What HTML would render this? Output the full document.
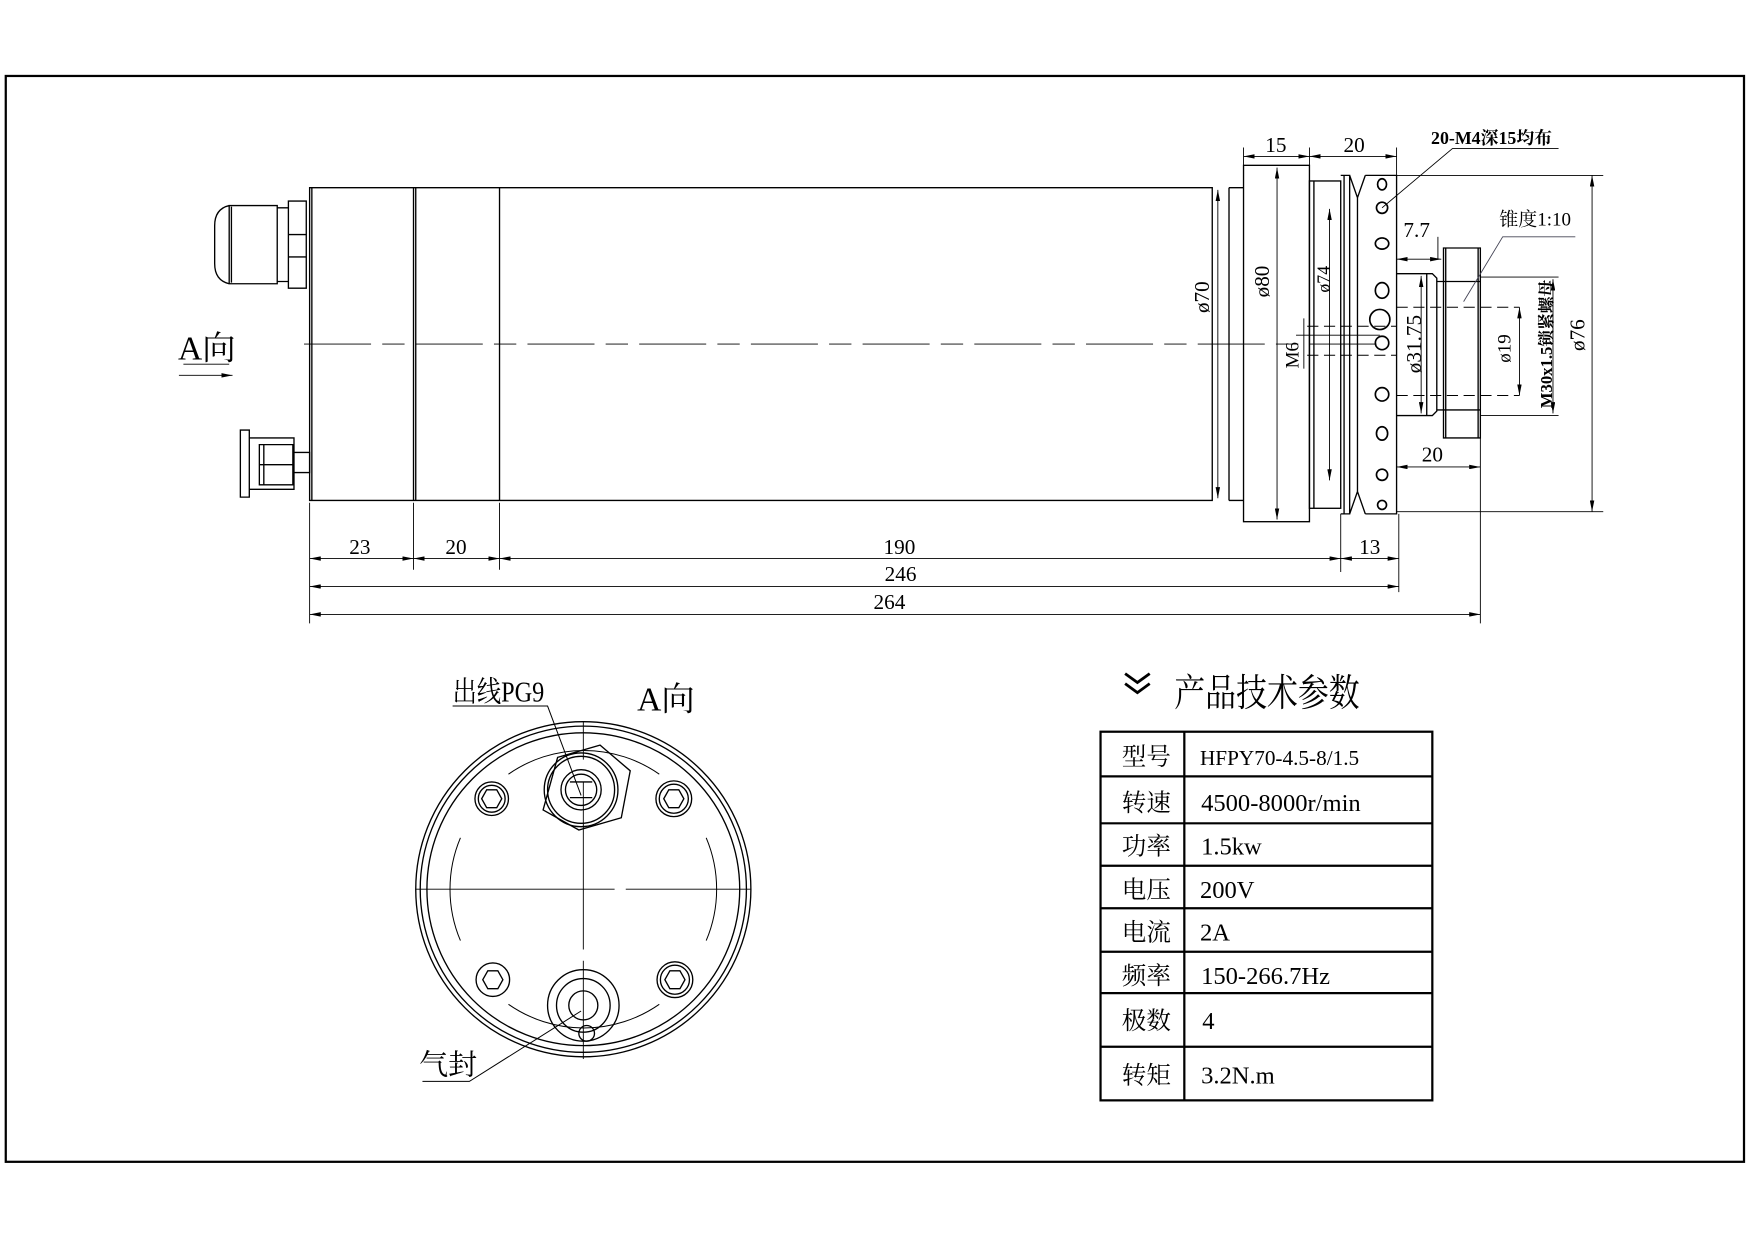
<!DOCTYPE html>
<html><head><meta charset="utf-8"><style>
html,body{margin:0;padding:0;background:#fff}
svg{display:block}
text{font-family:"Liberation Serif","Noto Serif CJK SC","Noto Sans CJK SC",serif;fill:#000}
</style></head><body>
<svg width="1752" height="1240" viewBox="0 0 1568 1110" xmlns="http://www.w3.org/2000/svg">
<defs>
<marker id="a" viewBox="0 0 10 4" refX="10" refY="2" markerWidth="10" markerHeight="4" orient="auto-start-reverse" markerUnits="userSpaceOnUse"><path d="M0,0L10,2L0,4z" fill="#000"/></marker>
</defs>
<g fill="none" stroke="#000" stroke-width="1.2">
<rect x="5" y="68" width="1556" height="972" stroke-width="2"/>
<path d="M258,180h16v78h-16zM258,210h16M258,230h16M248,186h10v66h-10zM205,184h43v70h-43zM205,184q-13,3-13,18v34q0,15,13,18M207,185v68"/>
<path d="M215,385h8v60h-8zM223,392h40v46h-40zM232,398h30v36h-30zM236,398v36M262,405h15v18h-15M232,416h30"/>
<path d="M277,168h808v280h-808zM279,168v280M370,168v280M372,168v280M447,168v280M1085,168v280M1100,168v280M1100,168h13M1100,448h13"/>
<path d="M272,308H1240" stroke-width="0.8" stroke-dasharray="60,10,20,10"/>
<rect x="1113" y="148" width="59" height="319"/>
<rect x="1172" y="162" width="28" height="293"/>
<path d="M1176,162v293M1200,157h8v303h-8M1203,157v303M1208,157l7,20l7,-20M1208,460l7,-20l7,20M1215,177v263M1222,157h28v303h-28"/>
<g stroke-width="1.5">
<ellipse cx="1237" cy="165" rx="4" ry="5"/><ellipse cx="1237" cy="186" rx="5" ry="5"/><ellipse cx="1237" cy="218" rx="6" ry="5"/><ellipse cx="1237" cy="260" rx="6" ry="7"/><circle cx="1235" cy="286" r="9"/><ellipse cx="1237" cy="307" rx="6" ry="6"/><ellipse cx="1237" cy="353" rx="6" ry="6"/><ellipse cx="1237" cy="388" rx="5" ry="6"/><ellipse cx="1237" cy="425" rx="5" ry="5"/><ellipse cx="1237" cy="452" rx="4" ry="4"/>
</g>
<path d="M1250,245h32l4,4v119l-4,4h-32M1277,245v127M1292,222h33v170h-33zM1294,222v170M1323,222v170M1292,252h33M1292,367h33M1286,252h6M1286,367h6"/>
<path d="M1250,275h110M1250,354h110M1170,292h80M1170,318h80" stroke-dasharray="10,5" stroke-width="0.9"/>
<path d="M1160,300H1235" stroke-width="0.8"/>
<path d="M1167,285v45" stroke-width="0.8"/>
<g stroke-width="0.8">
<path d="M277,450v108M370,450v60M447,450v60M1200,460v52M1252,460v70M1325,392v166M1113,132v16M1172,132v30M1250,132v25"/>
<path d="M277,500H370" marker-start="url(#a)" marker-end="url(#a)"/><path d="M370,500H447" marker-start="url(#a)" marker-end="url(#a)"/><path d="M447,500H1200" marker-start="url(#a)" marker-end="url(#a)"/><path d="M1200,500H1252" marker-start="url(#a)" marker-end="url(#a)"/>
<path d="M277,525H1252" marker-start="url(#a)" marker-end="url(#a)"/><path d="M277,550H1325" marker-start="url(#a)" marker-end="url(#a)"/>
<path d="M1113,140H1172" marker-start="url(#a)" marker-end="url(#a)"/><path d="M1172,140H1250" marker-start="url(#a)" marker-end="url(#a)"/>
<path d="M1250,157H1435M1250,458H1435"/><path d="M1425,157V458" marker-start="url(#a)" marker-end="url(#a)"/>
<path d="M1090,170V446" marker-start="url(#a)" marker-end="url(#a)"/><path d="M1143,150V465" marker-start="url(#a)" marker-end="url(#a)"/><path d="M1190,187V430" marker-start="url(#a)" marker-end="url(#a)"/><path d="M1272,247V370" marker-start="url(#a)" marker-end="url(#a)"/>
<path d="M1325,248H1395M1325,372H1395"/><path d="M1390,250V370" marker-start="url(#a)" marker-end="url(#a)"/>
<path d="M1360,275V354" marker-start="url(#a)" marker-end="url(#a)"/>
<path d="M1250,232H1290" marker-start="url(#a)" marker-end="url(#a)"/><path d="M1287,212v20"/>
<path d="M1250,418H1325" marker-start="url(#a)" marker-end="url(#a)"/>
<path d="M1237,186L1300,133H1395"/>
<path d="M1310,270L1345,212H1410" stroke="#445"/>
<path d="M160,336H208" marker-end="url(#a)"/><path d="M164,326H205"/>
</g>
<circle cx="522" cy="796" r="150"/><circle cx="522" cy="796" r="146"/><circle cx="522" cy="796" r="140"/>
<path d="M455,693A118,118 0 0 1 590,693M455,899A118,118 0 0 0 590,899" stroke-width="0.9"/>
<path d="M412,750A118,118 0 0 0 412,842M632,750A118,118 0 0 1 632,842" stroke-width="0.9"/>
<path d="M372,796H550M560,796H672M522,646V680M522,700V850M522,860V948" stroke-width="0.8"/>
<g>
<circle cx="440" cy="715" r="15"/><circle cx="440" cy="715" r="12"/><path d="M431,715l4.5,-8h9l4.5,8l-4.5,8h-9z"/>
<circle cx="603" cy="715" r="16"/><circle cx="603" cy="715" r="13"/><path d="M594,715l4.5,-8h9l4.5,8l-4.5,8h-9z"/>
<circle cx="441" cy="877" r="15"/><path d="M432,877l4.5,-8h9l4.5,8l-4.5,8h-9z"/>
<circle cx="604" cy="877" r="16"/><circle cx="604" cy="877" r="13"/><path d="M595,877l4.5,-8h9l4.5,8l-4.5,8h-9z"/>
</g>
<path d="M499,678L537,667L564,690L556,732L518,743L486,725z"/>
<circle cx="520" cy="707" r="33"/><circle cx="520" cy="707" r="30"/><circle cx="520" cy="707" r="18"/><circle cx="520" cy="707" r="14"/><path d="M510,700h20M510,714h20"/>
<circle cx="522" cy="900" r="32"/><circle cx="522" cy="900" r="24"/><circle cx="522" cy="900" r="13"/><circle cx="525" cy="925" r="7"/>
<path d="M405,632H490L520,712M378,968H420L520,905" stroke-width="0.9"/>
<rect x="985" y="655" width="297" height="330" stroke-width="2"/>
<path d="M1060,655V985M985,695H1282M985,737H1282M985,775H1282M985,813H1282M985,852H1282M985,889H1282M985,937H1282" stroke-width="2"/>
<path d="M1007,603l11,8l11,-8M1007,612l11,8l11,-8" stroke-width="2.5"/>
</g>
<g font-size="19" text-anchor="middle">
<text x="322" y="496">23</text><text x="408" y="496">20</text><text x="805" y="496">190</text><text x="1226" y="496">13</text>
<text x="806" y="520">246</text><text x="796" y="545">264</text>
<text x="1142" y="136">15</text><text x="1212" y="136">20</text>
<text x="1268" y="212">7.7</text><text x="1282" y="413">20</text>
<text x="1335" y="129" font-size="16" font-weight="bold">20-M4深15均布</text>
<text x="1374" y="202" font-size="17" fill="#445">锥度1:10</text>
<text transform="translate(1082,266) rotate(-90)">ø70</text>
<text transform="translate(1136,252) rotate(-90)">ø80</text>
<text transform="translate(1190,250) rotate(-90)" font-size="16">ø74</text>
<text transform="translate(1162,318) rotate(-90)" font-size="17">M6</text>
<text transform="translate(1272,308) rotate(-90)">ø31.75</text>
<text transform="translate(1352,312) rotate(-90)" font-size="17" fill="#555">ø19</text>
<text transform="translate(1389,308) rotate(-90)" font-size="15" font-weight="bold" textLength="115" lengthAdjust="spacingAndGlyphs">M30x1.5锁紧螺母</text>
<text transform="translate(1418,300) rotate(-90)">ø76</text>
<text x="185" y="322" font-size="30">A向</text>
<text x="446" y="628" font-size="26" textLength="82" lengthAdjust="spacingAndGlyphs">出线PG9</text>
<text x="596" y="636" font-size="30">A向</text>
<text x="401" y="962" font-size="26">气封</text>
<text x="1134" y="632" font-size="34" textLength="166" lengthAdjust="spacingAndGlyphs">产品技术参数</text>
</g>
<g font-size="22">
<text x="1004" y="685">型号</text><text x="1004" y="726">转速</text><text x="1004" y="765">功率</text><text x="1004" y="804">电压</text><text x="1004" y="842">电流</text><text x="1004" y="881">频率</text><text x="1004" y="921">极数</text><text x="1004" y="970">转矩</text>
<text x="1074" y="685" font-size="19">HFPY70-4.5-8/1.5</text><text x="1075" y="726">4500-8000r/min</text><text x="1075" y="765">1.5kw</text><text x="1074" y="804">200V</text><text x="1074" y="842">2A</text><text x="1075" y="881">150-266.7Hz</text><text x="1076" y="921">4</text><text x="1075" y="970">3.2N.m</text>
</g>
</svg>
</body></html>
